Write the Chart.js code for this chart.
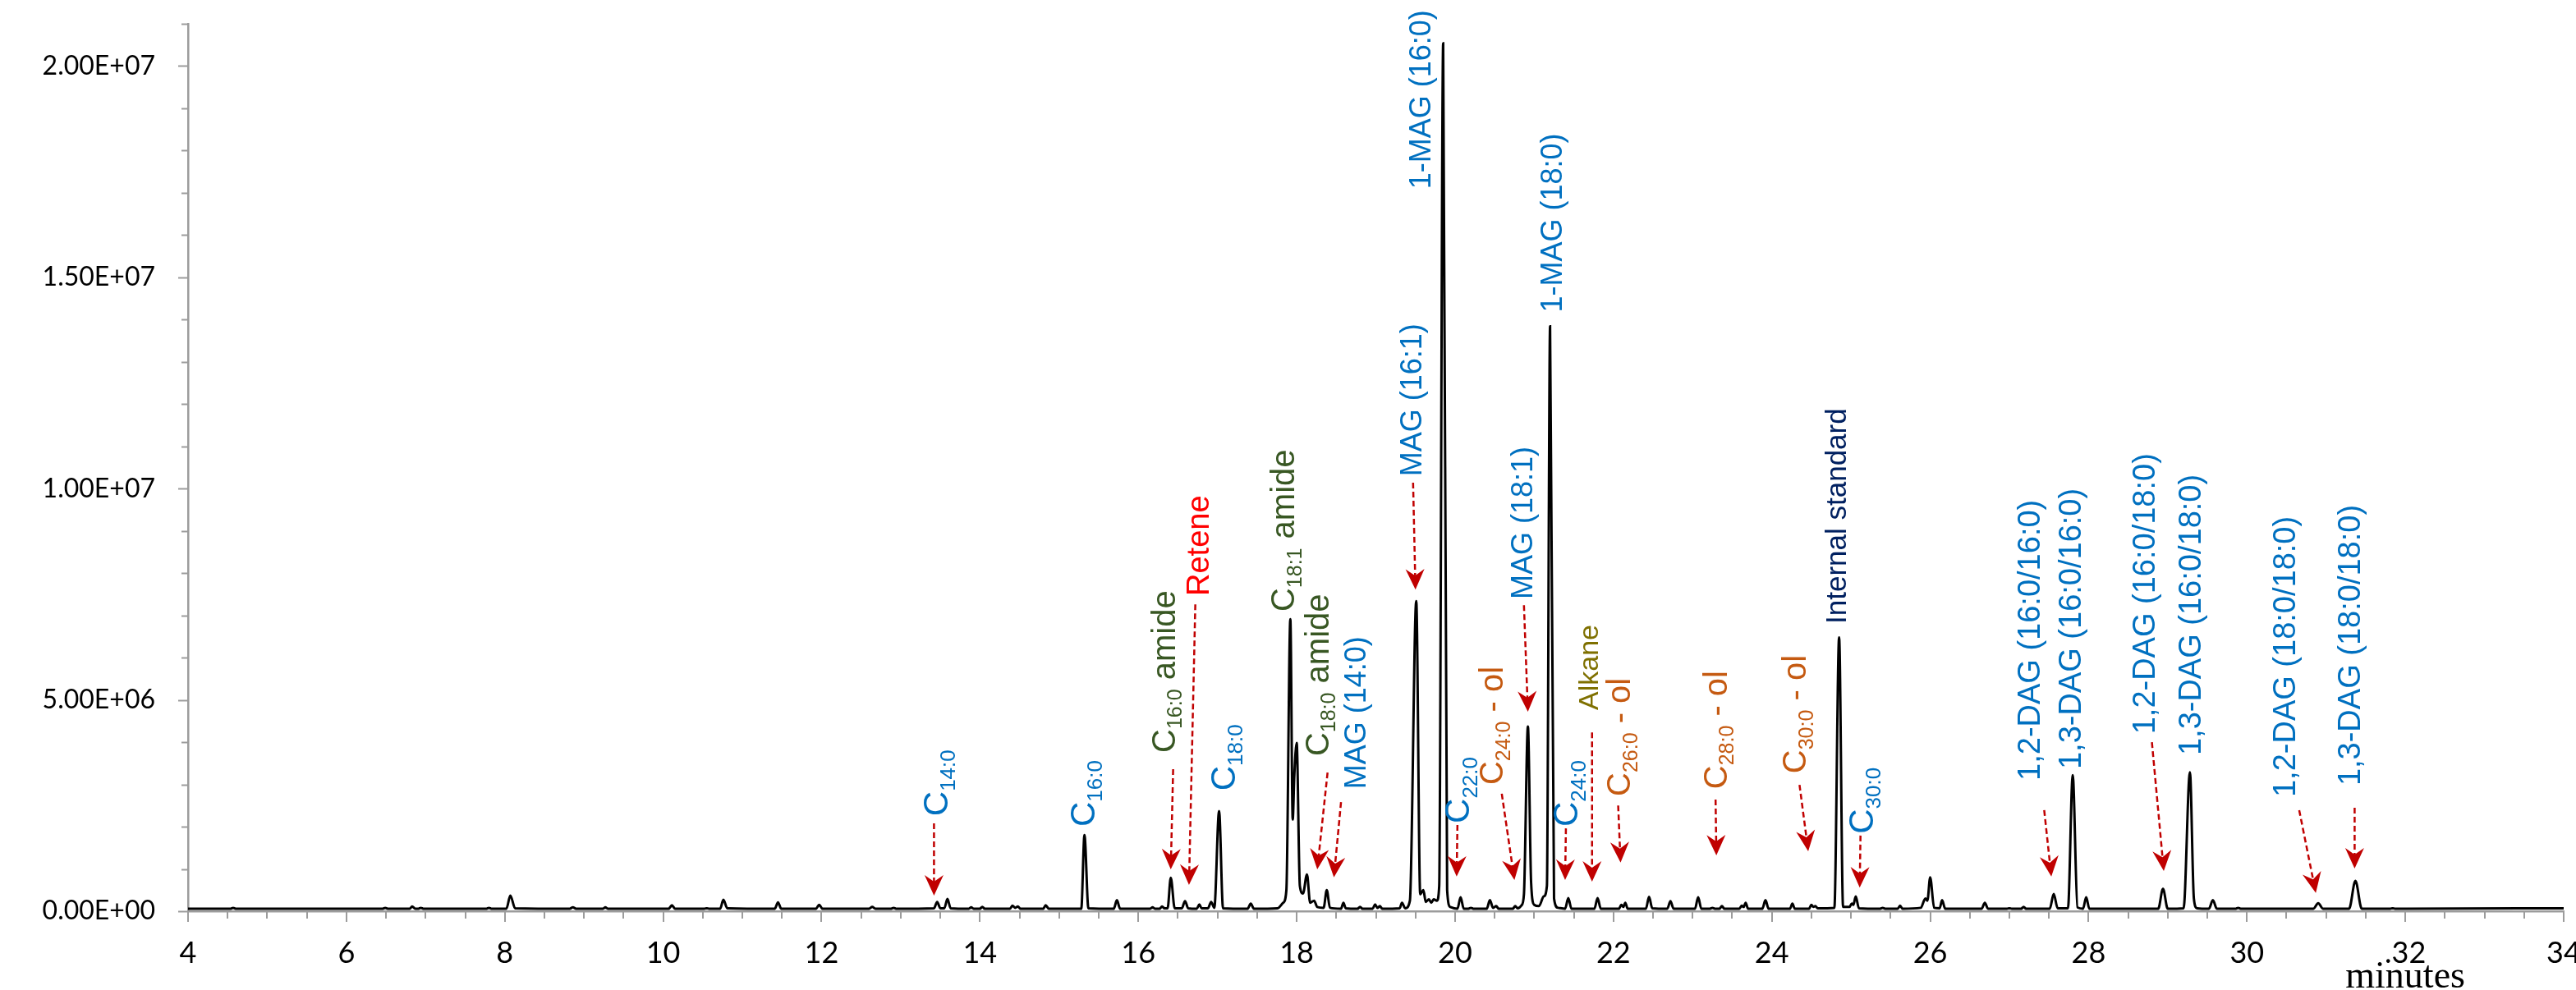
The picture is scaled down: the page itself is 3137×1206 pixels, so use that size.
<!DOCTYPE html>
<html><head><meta charset="utf-8">
<script src="https://cdn.jsdelivr.net/npm/chart.js@4.4.1/dist/chart.umd.min.js"></script>
<style>html,body{margin:0;padding:0;background:#fff;overflow:hidden}#wrap{width:3137px;height:1206px;position:relative}</style>
</head><body><div id="wrap"><canvas id="c"></canvas></div>
<script>
// ---------- data (retention time in minutes, intensity in units of 1E6 counts) ----------
const UNIT = 1e6;
const tracePoints = [
 [4.00,0.06],
 [4.54,0.06],[4.57,0.08],[4.60,0.06],
 [6.46,0.06],[6.49,0.08],[6.52,0.06],
 [6.80,0.06],[6.83,0.11],[6.87,0.06],[6.91,0.06],[6.94,0.08],[6.97,0.06],
 [7.77,0.06],[7.80,0.08],[7.83,0.06],
 [8.02,0.06],[8.07,0.37],[8.13,0.07],
 [8.82,0.06],[8.86,0.09],[8.90,0.06],
 [9.24,0.06],[9.27,0.09],[9.30,0.06],
 [10.07,0.06],[10.11,0.14],[10.15,0.06],
 [10.52,0.06],[10.55,0.07],[10.58,0.06],
 [10.72,0.06],[10.76,0.27],[10.81,0.07],
 [11.41,0.06],[11.45,0.21],[11.49,0.06],
 [11.93,0.06],[11.97,0.15],[12.01,0.06],
 [12.60,0.06],[12.64,0.10],[12.68,0.06],
 [12.88,0.06],[12.91,0.08],[12.94,0.06],
 [13.42,0.07],[13.46,0.22],[13.50,0.07],[13.55,0.07],[13.59,0.29],[13.63,0.07],
 [13.86,0.06],[13.89,0.09],[13.92,0.06],[14.00,0.06],[14.03,0.10],[14.06,0.06],
 [14.38,0.06],[14.41,0.13],[14.445,0.08],[14.48,0.11],[14.51,0.06],
 [14.80,0.06],[14.83,0.14],[14.87,0.06],
 [15.28,0.06],[15.32,1.80],[15.37,0.07],
 [15.69,0.06],[15.73,0.26],[15.77,0.06],
 [16.15,0.06],[16.18,0.09],[16.21,0.06],[16.27,0.06],[16.30,0.11],[16.33,0.07],
 [16.37,0.07],[16.41,0.79],[16.46,0.07],
 [16.55,0.07],[16.59,0.24],[16.63,0.07],
 [16.74,0.06],[16.77,0.16],[16.80,0.07],
 [16.88,0.07],[16.92,0.22],[16.96,0.08],[17.02,2.37],[17.07,0.07],
 [17.38,0.06],[17.42,0.18],[17.46,0.06],
 [17.76,0.07],[17.83,0.20],[17.87,0.50],[17.92,6.91],[17.95,2.17],[17.97,3.20],[18.00,3.98],
 [18.04,0.60],[18.08,0.42],[18.13,0.87],[18.17,0.20],[18.22,0.25],[18.26,0.10],
 [18.34,0.08],[18.38,0.50],[18.42,0.08],
 [18.56,0.06],[18.59,0.20],[18.62,0.07],
 [18.77,0.06],[18.80,0.10],[18.83,0.06],
 [18.96,0.06],[18.99,0.16],[19.02,0.08],[19.05,0.12],[19.08,0.06],
 [19.30,0.07],[19.33,0.20],[19.37,0.07],
 [19.43,0.25],[19.51,7.34],[19.56,0.40],[19.60,0.50],[19.63,0.22],[19.67,0.28],[19.70,0.20],
 [19.73,0.28],[19.77,0.25],[19.80,0.60],[19.85,20.54],[19.90,0.50],[19.94,0.10],
 [20.03,0.06],[20.07,0.33],[20.11,0.06],
 [20.17,0.06],[20.20,0.08],[20.23,0.06],
 [20.40,0.06],[20.44,0.26],[20.48,0.08],[20.52,0.12],[20.55,0.06],
 [20.73,0.06],[20.76,0.12],[20.79,0.07],[20.84,0.14],[20.87,0.40],[20.92,4.37],[20.96,0.70],
 [21.00,0.15],[21.06,0.12],[21.12,0.35],[21.16,0.60],[21.20,13.84],[21.25,0.30],[21.30,0.08],
 [21.39,0.06],[21.43,0.31],[21.47,0.06],
 [21.76,0.06],[21.80,0.31],[21.84,0.06],
 [22.07,0.06],[22.10,0.15],[22.125,0.10],[22.15,0.20],[22.18,0.06],
 [22.41,0.06],[22.45,0.34],[22.49,0.07],
 [22.68,0.06],[22.72,0.24],[22.76,0.06],
 [23.03,0.06],[23.07,0.33],[23.11,0.06],
 [23.22,0.06],[23.25,0.08],[23.28,0.06],[23.34,0.06],[23.37,0.12],[23.40,0.06],
 [23.59,0.06],[23.62,0.13],[23.645,0.10],[23.67,0.20],[23.70,0.06],
 [23.88,0.06],[23.92,0.26],[23.96,0.06],
 [24.23,0.06],[24.26,0.18],[24.29,0.06],
 [24.47,0.06],[24.50,0.15],[24.525,0.10],[24.55,0.12],[24.58,0.07],
 [24.79,0.08],[24.85,6.48],[24.90,0.10],
 [24.98,0.10],[25.01,0.18],[25.03,0.15],[25.06,0.35],[25.10,0.07],
 [25.37,0.06],[25.40,0.08],[25.43,0.06],
 [25.59,0.06],[25.62,0.13],[25.65,0.06],
 [25.88,0.08],[25.94,0.30],[25.965,0.25],[26.00,0.80],[26.05,0.08],[26.12,0.07],[26.15,0.26],[26.19,0.06],
 [26.65,0.06],[26.69,0.20],[26.73,0.06],
 [26.97,0.06],[27.00,0.07],[27.03,0.06],
 [27.15,0.06],[27.18,0.10],[27.21,0.06],
 [27.51,0.06],[27.56,0.41],[27.61,0.07],
 [27.74,0.07],[27.80,3.22],[27.86,0.09],
 [27.93,0.06],[27.97,0.33],[28.01,0.06],
 [28.88,0.06],[28.94,0.53],[29.00,0.06],
 [29.20,0.07],[29.28,3.29],[29.33,0.30],[29.37,0.07],
 [29.52,0.06],[29.57,0.26],[29.62,0.06],
 [29.86,0.06],[29.89,0.08],[29.92,0.06],
 [30.84,0.06],[30.90,0.19],[30.96,0.06],
 [31.29,0.06],[31.37,0.72],[31.45,0.06],
 [31.81,0.06],[31.84,0.07],[31.87,0.06],
 [34.00,0.07]
];
const xTickLabels = ['4','6','8','10','12','14','16','18','20','22','24','26','28','30','.32','34'];
const yTickLabels = ['0.00E+00','5.00E+06','1.00E+07','1.50E+07','2.00E+07'];
const xAxisTitle = 'minutes';

// ---------- peak annotations (text parts: [text, isSubscript]) ----------
const BLUE='#0070C0', GREEN='#385723', RED='#FF0000', ORANGE='#C55A11', OLIVE='#7F7000', NAVY='#002060';
const peakLabels = [
 {parts:[['C',0],['14:0',1]], color:BLUE, size:42, at:[13.59,2.25], arrow:[13.42,2.08,13.42,0.37]},
 {parts:[['C',0],['16:0',1]], color:BLUE, size:42, at:[15.45,2.00]},
 {parts:[['C',0],['16:0',1],[' amide',0]], color:GREEN, size:40, at:[16.46,3.75], arrow:[16.44,3.36,16.41,0.99]},
 {parts:[['Retene',0]], color:RED, size:38, at:[16.89,7.46], arrow:[16.72,7.26,16.64,0.62]},
 {parts:[['C',0],['18:0',1]], color:BLUE, size:42, at:[17.22,2.85]},
 {parts:[['C',0],['18:1',1],[' amide',0]], color:GREEN, size:40, at:[17.97,7.09]},
 {parts:[['C',0],['18:0',1],[' amide',0]], color:GREEN, size:40, at:[18.40,3.67], arrow:[18.39,3.28,18.26,0.99]},
 {parts:[['MAG (14:0)',0]], color:BLUE, size:36, at:[18.87,2.89], arrow:[18.56,2.58,18.47,0.80]},
 {parts:[['MAG (16:1)',0]], color:BLUE, size:36, at:[19.58,10.29], arrow:[19.47,10.14,19.50,7.61]},
 {parts:[['1-MAG (16:0)',0]], color:BLUE, size:36, at:[19.69,17.09]},
 {parts:[['C',0],['22:0',1]], color:BLUE, size:42, at:[20.18,2.08], arrow:[20.03,2.04,20.02,0.82]},
 {parts:[['C',0],['24:0',1],[' - ol',0]], color:ORANGE, size:40, at:[20.60,2.99], arrow:[20.59,2.78,20.75,0.74]},
 {parts:[['MAG (18:1)',0]], color:BLUE, size:36, at:[20.98,7.38], arrow:[20.87,7.24,20.92,4.72]},
 {parts:[['1-MAG (18:0)',0]], color:BLUE, size:36, at:[21.35,14.17]},
 {parts:[['C',0],['24:0',1]], color:BLUE, size:42, at:[21.55,2.00], arrow:[21.40,1.96,21.39,0.74]},
 {parts:[['Alkane',0]], color:OLIVE, size:34, at:[21.80,4.76], arrow:[21.73,4.23,21.73,0.70]},
 {parts:[['C',0],['26:0',1],[' - ol',0]], color:ORANGE, size:40, at:[22.21,2.72], arrow:[22.06,2.50,22.09,1.15]},
 {parts:[['C',0],['28:0',1],[' - ol',0]], color:ORANGE, size:40, at:[23.43,2.89], arrow:[23.29,2.64,23.30,1.32]},
 {parts:[['C',0],['30:0',1],[' - ol',0]], color:ORANGE, size:40, at:[24.43,3.26], arrow:[24.35,2.99,24.46,1.42]},
 {parts:[['Internal standard',0]], color:NAVY, size:35, at:[24.94,6.80]},
 {parts:[['C',0],['30:0',1]], color:BLUE, size:42, at:[25.28,1.83], arrow:[25.12,1.79,25.11,0.56]},
 {parts:[['1,2-DAG (16:0/16:0)',0]], color:BLUE, size:38, at:[27.38,3.09], arrow:[27.44,2.39,27.53,0.82]},
 {parts:[['1,3-DAG (16:0/16:0)',0]], color:BLUE, size:38, at:[27.90,3.36]},
 {parts:[['1,2-DAG (16:0/18:0)',0]], color:BLUE, size:38, at:[28.84,4.19], arrow:[28.80,4.00,28.95,0.95]},
 {parts:[['1,3-DAG (16:0/18:0)',0]], color:BLUE, size:38, at:[29.42,3.69]},
 {parts:[['1,2-DAG (18:0/18:0)',0]], color:BLUE, size:38, at:[30.61,2.70], arrow:[30.66,2.39,30.87,0.43]},
 {parts:[['1,3-DAG (18:0/18:0)',0]], color:BLUE, size:38, at:[31.43,2.97], arrow:[31.36,2.45,31.36,1.01]}
];

const AXIS = '#9c9c9c';
const ARROW = '#C00000';
const LABEL_FONT = '"Liberation Sans", Arial, sans-serif';

const tickMarks = {
  id:'tickMarks',
  afterDraw(chart){
    const {ctx, chartArea:ca, scales:{x,y}} = chart;
    ctx.save();
    ctx.strokeStyle = AXIS; ctx.lineWidth = 2;
    y.ticks.forEach(t=>{
      const py = Math.round(y.getPixelForValue(t.value))+0.5;
      const len = (t.value % 5e6 === 0) ? 12 : 8;
      ctx.beginPath(); ctx.moveTo(ca.left-len, py); ctx.lineTo(ca.left, py); ctx.stroke();
    });
    x.ticks.forEach(t=>{
      const px = Math.round(x.getPixelForValue(t.value));
      const len = (t.value % 2 === 0) ? 13 : 9;
      ctx.beginPath(); ctx.moveTo(px, ca.bottom); ctx.lineTo(px, ca.bottom+len); ctx.stroke();
    });
    ctx.fillStyle = '#000';
    ctx.font = '46px "Liberation Serif", "Times New Roman", serif';
    ctx.textAlign = 'center'; ctx.textBaseline = 'alphabetic';
    ctx.fillText(xAxisTitle, x.getPixelForValue(32), 1203);
    ctx.restore();
  }
};

const annotations = {
  id:'annotations',
  afterDatasetsDraw(chart){
    const {ctx, scales:{x,y}} = chart;
    ctx.save();
    peakLabels.forEach(l=>{
      if(!l.arrow) return;
      const x1=x.getPixelForValue(l.arrow[0]), y1=y.getPixelForValue(l.arrow[1]*UNIT);
      const x2=x.getPixelForValue(l.arrow[2]), y2=y.getPixelForValue(l.arrow[3]*UNIT);
      const dx=x2-x1, dy=y2-y1, d=Math.hypot(dx,dy), ux=dx/d, uy=dy/d, nx=-uy, ny=ux;
      const L=25, W=11.5, notch=8;
      const bx=x2-ux*L, by=y2-uy*L;
      const nxp=x2-ux*(L-notch), nyp=y2-uy*(L-notch);
      ctx.strokeStyle=ARROW; ctx.lineWidth=2.5; ctx.setLineDash([7,4]);
      ctx.beginPath(); ctx.moveTo(x1,y1); ctx.lineTo(nxp,nyp); ctx.stroke();
      ctx.setLineDash([]);
      ctx.fillStyle=ARROW;
      ctx.beginPath(); ctx.moveTo(x2,y2); ctx.lineTo(bx+nx*W, by+ny*W); ctx.lineTo(nxp,nyp); ctx.lineTo(bx-nx*W, by-ny*W); ctx.closePath(); ctx.fill();
    });
    peakLabels.forEach(l=>{
      const px=x.getPixelForValue(l.at[0]), py=y.getPixelForValue(l.at[1]*UNIT);
      ctx.save();
      ctx.translate(px,py); ctx.rotate(-Math.PI/2);
      ctx.fillStyle=l.color; ctx.textAlign='left'; ctx.textBaseline='alphabetic';
      let cx=0;
      const sub=Math.round(l.size*0.62);
      l.parts.forEach(([txt,isSub])=>{
        ctx.font=(isSub?sub:l.size)+'px '+LABEL_FONT;
        ctx.fillText(txt, cx, isSub? l.size*0.22 : 0);
        cx+=ctx.measureText(txt).width;
      });
      ctx.restore();
    });
    ctx.restore();
  }
};

new Chart(document.getElementById('c'), {
  type:'line',
  data:{datasets:[{
    data: tracePoints.map(([t,v])=>({x:t, y:v*UNIT})),
    borderColor:'#000', borderWidth:3, pointRadius:0, fill:false,
    cubicInterpolationMode:'monotone'
  }]},
  options:{
    responsive:true, maintainAspectRatio:false, animation:false, devicePixelRatio:1, events:[],
    layout:{padding:{top:29,right:15,left:0,bottom:0}, autoPadding:false},
    plugins:{legend:{display:false}, tooltip:{enabled:false}},
    scales:{
      x:{type:'linear', min:4, max:34,
        afterFit(s){ s.height = 96; s.paddingLeft = 0; s.paddingRight = 0; s.paddingTop = 0; s.paddingBottom = 0; },
        grid:{display:false, drawTicks:false},
        border:{display:true, color:AXIS, width:2.5},
        ticks:{stepSize:0.5, autoSkip:false, maxRotation:0, minRotation:0, maxTicksLimit:100, padding:30,
          color:'#000', font:{family:'Lato', size:36},
          callback(v){ const k=(v-4)/2; return Number.isInteger(k) ? xTickLabels[k] : ''; }}
      },
      y:{type:'linear', min:0, max:2.1e7,
        afterFit(s){ s.width = 229; s.paddingTop = 0; s.paddingBottom = 0; s.paddingLeft = 0; s.paddingRight = 0; },
        grid:{display:false, drawTicks:false},
        border:{display:true, color:AXIS, width:2.5},
        ticks:{stepSize:1e6, autoSkip:false, maxTicksLimit:100, padding:40,
          color:'#000', font:{family:'Lato', size:32},
          callback(v){ const k=v/5e6; return Number.isInteger(k) ? yTickLabels[k] : ''; }}
      }
    }
  },
  plugins:[tickMarks, annotations]
});
</script></body></html>
